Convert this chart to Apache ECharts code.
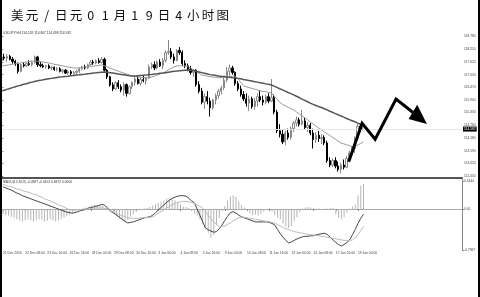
<!DOCTYPE html>
<html><head><meta charset="utf-8">
<script src="https://cdn.jsdelivr.net/npm/echarts@6/dist/echarts.min.js"></script>
<style>html,body{margin:0;padding:0;background:#fff}#c{width:480px;height:297px}</style>
</head><body><div id="c"></div>
<script>
const titleChars = ['美','元','/','日','元','0','1','月','1','9','日','4','小','时','图'];
const dateLabels = ['21 Dec 2016','22 Dec 08:00','23 Dec 16:00','26 Dec 16:00','28 Dec 00:00','29 Dec 08:00','30 Dec 16:00','3 Jan 00:00','4 Jan 08:00','5 Jan 16:00','9 Jan 00:00','10 Jan 08:00','11 Jan 16:00','13 Jan 00:00','16 Jan 08:00','17 Jan 16:00','19 Jan 00:00'];
const priceTicks = [118.780,118.210,117.620,117.050,116.470,115.900,115.330,114.760,114.180,113.590,113.020,112.450];
const macdTicks = [0.5444, 0, -0.7967];
const lastPrice = 114.582;
const symbolText = 'USDJPY,H4 114.559 114.667 114.498 114.582';
const macdText = 'MACD(12,26,9) -0.0987 -0.3423 0.4872 0.0000';

const open = [117.70,117.85,117.80,117.88,117.75,117.65,117.55,117.20,117.50,117.45,117.55,117.50,117.60,117.85,117.50,117.45,117.40,117.45,117.35,117.38,117.28,117.32,117.20,117.25,117.12,117.18,117.10,117.15,117.20,117.32,117.40,117.35,117.50,117.62,117.58,117.68,117.60,117.75,117.25,116.95,116.58,116.40,116.68,116.50,116.35,116.60,116.20,116.50,116.70,116.85,116.65,116.82,116.78,116.90,117.40,117.50,117.35,117.62,117.45,117.70,118.05,118.10,117.85,117.70,118.15,118.05,117.55,117.45,117.30,117.15,117.25,116.60,116.30,115.80,116.05,115.85,115.55,115.90,116.10,116.30,116.45,116.80,117.20,117.35,117.15,116.65,116.40,116.15,115.95,115.75,115.95,115.60,115.85,116.05,115.90,115.80,116.05,115.85,116.00,115.35,114.50,114.35,114.00,114.40,114.20,114.60,114.85,115.00,114.80,114.95,114.65,114.75,114.40,114.10,114.30,114.15,114.20,113.95,113.15,112.95,113.15,112.90,112.75,112.95,112.85,113.25,113.50,113.70,114.15,114.70,114.559];
const high = [117.95,118.00,117.98,117.95,117.85,117.72,117.60,117.55,117.62,117.60,117.70,117.65,117.92,117.90,117.62,117.55,117.50,117.52,117.45,117.42,117.40,117.38,117.30,117.30,117.25,117.25,117.22,117.28,117.38,117.45,117.50,117.55,117.70,117.72,117.75,117.80,117.85,117.82,117.30,117.00,116.70,116.75,116.80,116.60,116.70,116.65,116.55,116.75,116.95,117.00,116.90,117.00,116.95,117.50,117.60,117.65,117.70,117.75,117.80,118.15,118.62,118.25,118.00,118.20,118.30,118.15,117.70,117.55,117.45,117.30,117.30,116.75,116.45,116.20,116.30,116.00,115.95,116.20,116.40,116.55,116.90,117.40,117.50,117.45,117.20,116.75,116.55,116.30,116.20,116.10,116.05,116.00,116.20,116.35,116.10,116.15,116.20,116.85,116.15,115.45,114.80,114.55,114.50,114.60,114.70,114.95,115.15,115.10,115.45,115.10,114.90,114.85,114.60,114.45,114.50,114.35,114.30,114.05,113.30,113.25,113.30,113.10,113.05,113.20,113.35,113.60,113.80,114.25,114.85,114.80,114.667];
const low = [117.60,117.70,117.62,117.70,117.55,117.45,117.10,117.15,117.38,117.40,117.45,117.42,117.55,117.40,117.38,117.35,117.30,117.30,117.25,117.22,117.20,117.15,117.10,117.08,117.05,117.02,117.00,117.05,117.12,117.25,117.28,117.30,117.45,117.50,117.52,117.55,117.55,117.20,116.85,116.50,116.30,116.35,116.40,116.25,116.10,116.05,116.15,116.40,116.55,116.60,116.55,116.70,116.60,116.85,117.30,117.25,117.30,117.40,117.30,117.60,117.95,117.75,117.55,117.65,117.95,117.45,117.35,117.20,117.05,116.95,116.50,116.20,115.70,115.50,115.70,115.15,115.45,115.70,115.95,116.15,116.35,116.70,117.00,117.05,116.55,116.30,116.05,115.85,115.60,115.40,115.50,115.45,115.60,115.80,115.65,115.70,115.75,115.80,115.25,114.40,114.20,113.90,113.85,114.10,114.10,114.45,114.70,114.70,114.75,114.55,114.45,114.30,113.70,113.95,114.00,113.90,113.85,113.05,112.85,112.85,112.80,112.65,112.57,112.75,112.80,113.15,113.35,113.50,114.05,114.45,114.498];
const close = [117.85,117.80,117.88,117.75,117.65,117.55,117.20,117.50,117.45,117.55,117.50,117.60,117.85,117.50,117.45,117.40,117.45,117.35,117.38,117.28,117.32,117.20,117.25,117.12,117.18,117.10,117.15,117.20,117.32,117.40,117.35,117.50,117.62,117.58,117.68,117.60,117.75,117.25,116.95,116.58,116.40,116.68,116.50,116.35,116.60,116.20,116.50,116.70,116.85,116.65,116.82,116.78,116.90,117.40,117.50,117.35,117.62,117.45,117.70,118.05,118.10,117.85,117.70,118.15,118.05,117.55,117.45,117.30,117.15,117.25,116.60,116.30,115.80,116.05,115.85,115.55,115.90,116.10,116.30,116.45,116.80,117.20,117.35,117.15,116.65,116.40,116.15,115.95,115.75,115.95,115.60,115.85,116.05,115.90,115.80,116.05,115.85,116.00,115.35,114.50,114.35,114.00,114.40,114.20,114.60,114.85,115.00,114.80,114.95,114.65,114.75,114.40,114.10,114.30,114.15,114.20,113.95,113.15,112.95,113.15,112.90,112.75,112.95,112.85,113.25,113.50,113.70,114.15,114.70,114.56,114.582];

const maFast = [117.44,117.46,117.48,117.50,117.52,117.54,117.56,117.58,117.60,117.62,117.64,117.66,117.67,
117.66,117.64,117.62,117.60,117.58,117.55,117.52,117.50,117.47,117.45,117.42,117.40,117.37,117.35,
117.35,117.36,117.37,117.39,117.40,117.42,117.44,117.45,117.47,117.49,
117.45,117.40,117.35,117.30,117.25,
117.21,117.16,117.12,117.08,117.03,116.99,
116.97,116.95,116.93,116.92,116.91,116.90,
116.94,116.98,117.03,117.08,117.12,
117.19,117.26,117.33,117.40,117.44,
117.45,117.45,117.44,117.43,
117.35,117.27,117.19,117.11,117.03,
117.01,116.98,116.96,116.94,116.92,116.90,
116.92,116.93,116.95,116.96,116.98,116.99,
116.85,116.70,116.55,
116.50,116.46,116.43,116.39,116.35,116.31,
116.29,116.27,116.24,116.22,
116.08,115.95,115.80,
115.70,115.64,115.57,115.51,115.45,
115.36,115.27,115.18,115.09,115.00,114.90,114.81,114.72,114.63,114.54,
114.46,114.37,114.29,114.20,114.12,114.03,113.95,
113.91,113.87,113.83,113.79,
113.80,113.85,113.92,113.99];
const maSlow = [116.30,116.34,116.38,116.42,116.46,116.50,116.54,116.57,116.61,116.64,116.68,116.71,116.74,
116.77,116.79,116.82,116.84,116.86,116.88,116.90,116.92,116.94,116.95,116.97,116.98,
117.00,117.01,117.03,117.04,117.06,117.07,117.09,117.10,117.12,117.13,117.15,117.16,
117.17,117.16,117.14,117.12,117.10,117.08,117.06,117.04,117.02,117.00,
116.99,116.99,117.00,117.01,117.02,117.03,117.05,117.06,117.08,117.09,117.11,117.12,
117.14,117.16,117.18,117.20,117.21,117.23,117.24,117.25,117.26,
117.25,117.23,117.20,117.17,117.14,117.11,117.08,117.05,117.03,
117.01,116.99,116.97,116.96,116.94,116.93,116.91,116.90,
116.88,116.86,116.83,116.81,116.78,116.76,116.73,116.71,116.68,116.66,116.63,116.61,116.58,
116.53,116.47,116.41,116.36,116.30,116.24,116.19,116.13,
116.07,116.01,115.94,115.88,115.82,115.76,115.70,115.65,115.60,115.56,
115.50,115.45,115.39,115.34,115.28,115.23,115.17,115.12,115.06,115.01,114.96,114.91,114.85,114.80,114.76];

const macdMain = [0.43,0.41,0.39,0.37,0.34,0.31,0.29,0.26,0.24,
0.22,0.20,0.18,0.16,0.14,0.12,0.10,0.08,0.06,0.04,0.02,0.00,-0.02,-0.04,-0.06,-0.07,-0.08,
-0.07,-0.05,-0.03,-0.02,0.00,0.02,0.03,0.05,0.06,0.08,0.09,
0.06,0.00,-0.05,-0.08,
-0.12,-0.16,-0.20,-0.24,-0.27,
-0.26,-0.25,-0.23,-0.21,-0.19,-0.17,-0.16,-0.15,
-0.12,-0.07,-0.02,0.03,0.08,0.13,0.17,0.21,
0.23,0.25,0.26,0.26,0.25,
0.21,0.16,0.12,
0.00,-0.12,-0.25,-0.37,
-0.40,-0.43,-0.45,-0.44,
-0.38,-0.31,-0.22,-0.14,-0.07,-0.05,
-0.08,-0.12,-0.15,
-0.17,-0.19,-0.21,-0.23,-0.25,
-0.25,-0.25,-0.25,-0.25,-0.26,-0.28,-0.31,
-0.40,-0.48,-0.55,-0.61,-0.66,
-0.64,-0.61,-0.58,-0.56,-0.54,
-0.53,-0.53,-0.52,-0.52,
-0.50,-0.49,-0.48,-0.47,
-0.50,-0.55,-0.60,-0.65,-0.69,-0.72,
-0.69,-0.65,-0.60,
-0.50,-0.40,-0.28,-0.18,-0.0987];
const macdSignal = [0.48,0.46,0.44,0.43,0.41,0.39,0.38,0.36,0.34,0.33,0.31,0.29,0.28,
0.25,0.23,0.20,0.18,0.16,0.13,0.11,0.08,0.06,0.04,0.01,-0.01,-0.02,
-0.02,-0.01,-0.01,0.00,0.00,0.01,0.01,0.02,0.02,0.02,0.02,
0.01,-0.01,-0.04,-0.06,-0.09,-0.11,-0.13,-0.15,-0.17,
-0.18,-0.18,-0.18,-0.18,-0.17,-0.17,-0.16,-0.16,-0.155,
-0.12,-0.08,-0.05,-0.02,0.02,0.05,0.08,0.11,0.13,0.14,
0.15,0.15,0.14,0.13,0.11,0.08,0.05,0.02,
-0.05,-0.12,-0.19,-0.25,-0.30,-0.34,
-0.34,-0.33,-0.30,-0.27,-0.23,-0.20,-0.17,-0.155,
-0.16,-0.17,-0.18,-0.19,-0.20,-0.21,-0.22,-0.23,-0.24,-0.247,
-0.26,-0.28,-0.30,-0.33,-0.36,-0.38,-0.40,-0.42,-0.44,
-0.45,-0.46,-0.47,-0.48,-0.49,-0.50,-0.505,
-0.51,-0.52,-0.53,-0.54,-0.55,-0.56,-0.57,-0.58,-0.59,-0.60,
-0.61,-0.61,-0.61,-0.60,-0.56,-0.50,-0.42,-0.3423];
const macdHist = [-0.10,-0.12,-0.13,-0.15,-0.17,
-0.20,-0.22,-0.24,-0.22,
-0.20,-0.22,-0.24,-0.22,-0.20,-0.21,-0.24,-0.23,-0.20,-0.22,-0.24,-0.22,-0.19,-0.17,
-0.14,-0.11,-0.08,-0.05,
-0.03,-0.02,0.01,
0.03,0.05,0.07,0.08,0.08,0.07,0.06,
0.02,0.01,-0.03,-0.08,
-0.14,-0.19,-0.23,-0.25,-0.22,
-0.15,-0.10,-0.06,-0.03,
-0.01,0.01,0.02,
0.04,0.07,0.10,0.12,0.14,0.17,
0.20,0.21,0.19,
0.17,0.13,0.09,0.05,
0.04,0.02,
-0.04,-0.09,-0.13,
-0.20,-0.28,-0.37,-0.46,
-0.56,-0.50,
-0.31,-0.17,
-0.04,0.06,
0.16,0.24,0.27,0.24,
0.15,0.08,
0.03,-0.03,
-0.08,-0.12,-0.11,-0.12,-0.09,-0.05,
-0.01,0.01,-0.05,
-0.12,-0.17,-0.20,
-0.28,-0.34,-0.37,-0.33,-0.24,
-0.16,-0.06,
0.01,0.03,0.045,
0.03,0.02,0.01,0.01,
0.005,0.005,
0.01,0.02,0.02,
-0.10,-0.17,-0.20,-0.16,
-0.07,0.01,
0.05,0.09,
0.27,0.46,0.4872];

// hand-drawn arrow annotation, in (bar position, price) units
const arrowPath = [[124.8,113.10],[129.6,114.84],[134.3,114.12],[141.8,115.94],[147.9,115.33]];
const arrowHead = [[149.4,115.68],[146.3,115.04],[152.9,114.81]];

const N = 166;
const cats = [];
for (let i = 0; i < N; i++) cats.push(String(i));
const candles = open.map((o, i) => [o, close[i], low[i], high[i]]);
const isLabel = (idx) => idx % 8 === 0 && idx / 8 < dateLabels.length;
const GL = -3.9, GW = 465.9;
const tiny = 3.3;
const ff = 'Liberation Sans';

const chart = echarts.init(document.getElementById('c'), null, {renderer: 'canvas', width: 480, height: 297});
const option = {
  animation: false,
  backgroundColor: '#fff',
  grid: [
    {left: GL, top: 29, width: GW, height: 149},
    {left: GL, top: 179, width: GW, height: 71}
  ],
  xAxis: [
    {type: 'category', gridIndex: 0, data: cats, boundaryGap: true,
     axisLine: {show: true, lineStyle: {color: '#555', width: 2}},
     axisTick: {show: false}, axisLabel: {show: false}, splitLine: {show: false}},
    {type: 'value', gridIndex: 0, min: -0.5, max: N - 0.5, show: false},
    {type: 'category', gridIndex: 1, data: cats, boundaryGap: true,
     axisLine: {show: true, lineStyle: {color: '#aaa', width: 1}},
     axisTick: {show: true, alignWithLabel: true, interval: (i) => isLabel(i), length: 2, lineStyle: {color: '#888'}},
     axisLabel: {show: true, interval: (i) => isLabel(i), formatter: (v) => dateLabels[Number(v) / 8],
       fontSize: tiny, fontFamily: ff, color: '#444', align: 'left', margin: 2},
     splitLine: {show: false}}
  ],
  yAxis: [
    {type: 'value', gridIndex: 0, position: 'right', min: 112.36, max: 119.12,
     axisLine: {show: true, lineStyle: {color: '#888', width: 1}},
     axisTick: {show: true, customValues: priceTicks, length: 2, lineStyle: {color: '#888'}},
     axisLabel: {show: true, customValues: priceTicks, formatter: (v) => v.toFixed(3),
       fontSize: tiny, fontFamily: ff, color: '#444', margin: 2},
     splitLine: {show: false}},
    {type: 'value', gridIndex: 1, position: 'right', min: -0.7967, max: 0.5844,
     axisLine: {show: true, lineStyle: {color: '#888', width: 1}},
     axisTick: {show: true, customValues: macdTicks, length: 2, lineStyle: {color: '#888'}},
     axisLabel: {show: true, customValues: macdTicks, formatter: (v) => v === 0 ? '0.00' : String(v),
       fontSize: tiny, fontFamily: ff, color: '#444', margin: 2},
     splitLine: {show: false}}
  ],
  series: [
    {type: 'candlestick', xAxisIndex: 0, yAxisIndex: 0, data: candles, barWidth: 1.8,
     itemStyle: {color: '#fff', color0: '#000', borderColor: '#888', borderColor0: '#000', borderWidth: 1},
     markLine: {silent: true, symbol: 'none', animation: false,
       data: [{yAxis: lastPrice}],
       lineStyle: {color: '#e4e4e4', type: 'solid', width: 1},
       label: {show: true, position: 'end', formatter: () => lastPrice.toFixed(3), distance: 1,
         backgroundColor: '#000', color: '#fff', fontSize: tiny, fontFamily: ff, padding: [1, 1]}}},
    {type: 'line', xAxisIndex: 0, yAxisIndex: 0, data: maFast, symbol: 'none',
     lineStyle: {color: '#999', width: 1}, z: 3},
    {type: 'line', xAxisIndex: 0, yAxisIndex: 0, data: maSlow, symbol: 'none',
     lineStyle: {color: '#555', width: 1.5}, z: 3},
    {type: 'line', xAxisIndex: 1, yAxisIndex: 0, data: arrowPath, symbol: 'none',
     lineStyle: {color: '#000', width: 3, join: 'miter'}, z: 10},
    {type: 'custom', xAxisIndex: 1, yAxisIndex: 0, data: [0], z: 10,
     renderItem: (params, api) => ({type: 'polygon',
       shape: {points: arrowHead.map((p) => api.coord(p))}, style: {fill: '#000'}})},
    {type: 'bar', xAxisIndex: 2, yAxisIndex: 1, data: macdHist, barWidth: 1,
     itemStyle: {color: '#b4b4b4'}},
    {type: 'line', xAxisIndex: 2, yAxisIndex: 1, data: macdMain, symbol: 'none',
     lineStyle: {color: '#444', width: 1}, z: 4},
    {type: 'line', xAxisIndex: 2, yAxisIndex: 1, data: macdSignal, symbol: 'none',
     lineStyle: {color: '#bbb', width: 1}, z: 4}
  ],
  graphic: [
    {type: 'rect', shape: {x: 0, y: 0, width: 2, height: 297}, style: {fill: '#000'}, z: 100},
    {type: 'rect', shape: {x: 478, y: 0, width: 2, height: 297}, style: {fill: '#000'}, z: 100},
    {type: 'text', x: 3, y: 33, style: {text: symbolText, fontSize: tiny, fontFamily: ff, fill: '#333', textVerticalAlign: 'middle'}},
    {type: 'text', x: 3, y: 182, style: {text: macdText, fontSize: tiny, fontFamily: ff, fill: '#333', textVerticalAlign: 'middle'}}
  ].concat(titleChars.map((ch, i) => ({type: 'text', x: 17.3 + i * 14.67, y: 15,
     style: {text: ch, fontSize: 12.5, fontFamily: 'Noto Sans CJK SC', fill: '#111', textAlign: 'center', textVerticalAlign: 'middle'}})))
};
chart.setOption(option);
</script></body></html>
